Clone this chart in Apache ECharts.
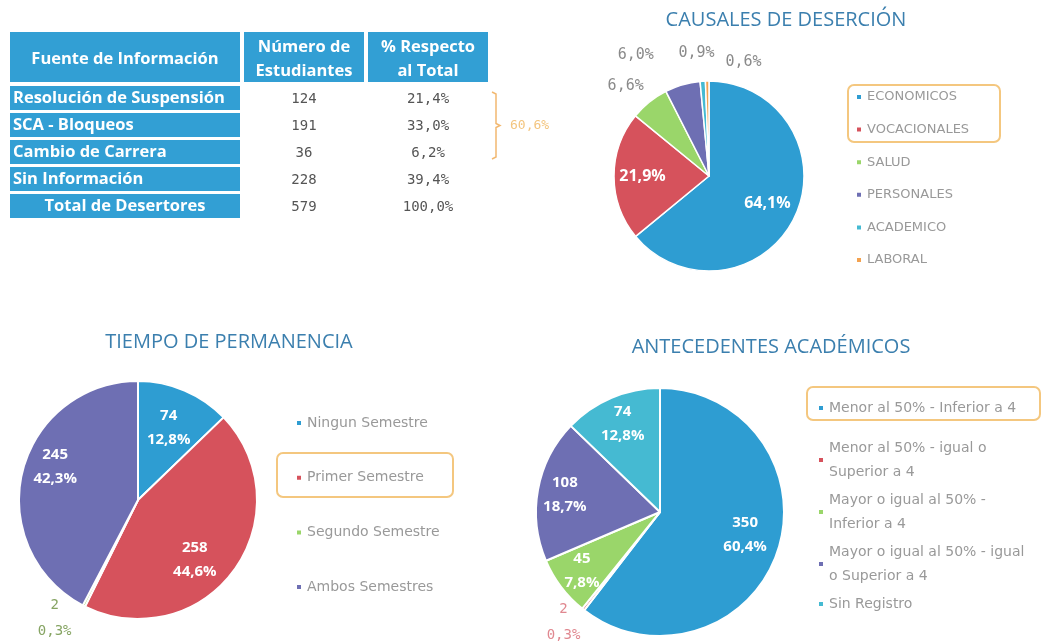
<!DOCTYPE html>
<html>
<head>
<meta charset="utf-8">
<title>Deserción</title>
<script src="https://cdn.jsdelivr.net/npm/echarts@6/dist/echarts.min.js"></script>
<style>
    html, body { margin: 0; padding: 0; background: #fff; }
    #contain { width: 1042px; height: 643px; }
</style>
</head>
<body>
<div id="contain"></div>
<script>
/*tabla*/
var encabezados = ['Fuente de Información', 'Número de\nEstudiantes', '% Respecto\nal Total'];
var fuentes = ['Resolución de Suspensión', 'SCA - Bloqueos', 'Cambio de Carrera', 'Sin Información'];
var estudiantes = [124, 191, 36, 228];
var porcentajes = [21.4, 33.0, 6.2, 39.4];
var filaTotal = 'Total de Desertores';

/*causales de desercion (en %)*/
var causales = ['ECONOMICOS', 'VOCACIONALES', 'SALUD', 'PERSONALES', 'ACADEMICO', 'LABORAL'];
var causalesPct = [64.1, 21.9, 6.6, 6.0, 0.9, 0.6];

/*tiempo de permanencia*/
var permanencia = ['Ningun Semestre', 'Primer Semestre', 'Segundo Semestre', 'Ambos Semestres'];
var permanenciaN = [74, 258, 2, 245];

/*antecedentes academicos*/
var antecedentes = ['Menor al 50% - Inferior a 4', 'Menor al 50% - igual o Superior a 4',
    'Mayor o igual al 50% - Inferior a 4', 'Mayor o igual al 50% - igual o Superior a 4', 'Sin Registro'];
var antecedentesN = [350, 2, 45, 108, 74];

var azul = '#2e9dd2', rojo = '#d6525c', verde = '#9ad66a', morado = '#6e6fb3', celeste = '#45bad2', naranja = '#f3a250';
var azulTabla = '#329fd4';

// donde va cada etiqueta: fraccion del radio y giro en grados
var radio1 = [0.68, 0.7, 1.29, 1.49, 1.3, 1.25], giro1 = [0, 0, -4, -15, -2, 18];
var radio2 = [0.66, 0.69, 1.22, 0.75], giro2 = [0, 10, 8, 8];
var radio3 = [0.71, 1.18, 0.79, 0.78, 0.77], giro3 = [-4, 3, 0, 0, 0];

function sum(arr) {
    var s = 0;
    for (var i = 0; i < arr.length; i++) s += arr[i];
    return s;
}

function coma(v) {
    return v.toFixed(1).replace('.', ',');
}

/**
 * corta el texto de la leyenda por palabras
 */
function partir(nombre, max) {
    var palabras = nombre.split(' '), lineas = [], actual = '';
    for (var i = 0; i < palabras.length; i++) {
        var prueba = actual ? actual + ' ' + palabras[i] : palabras[i];
        if (prueba.length > max && actual) {
            lineas.push(actual);
            actual = palabras[i];
        } else {
            actual = prueba;
        }
    }
    lineas.push(actual);
    return lineas.join('\n');
}

/**
 * posicion de las etiquetas segun el angulo de cada porcion
 */
function etiquetas(centro, r, valores, radios, giros) {
    var total = sum(valores);
    return function (p) {
        var antes = 0;
        for (var i = 0; i < p.dataIndex; i++) antes += valores[i];
        var ang = (antes + valores[p.dataIndex] / 2) / total * 2 * Math.PI + giros[p.dataIndex] * Math.PI / 180;
        var d = r * radios[p.dataIndex];
        return {
            x: centro[0] + Math.sin(ang) * d,
            y: centro[1] - Math.cos(ang) * d,
            align: 'center',
            verticalAlign: 'middle'
        };
    };
}

function datos(nombres, valores, radios, fuera) {
    var out = [];
    for (var i = 0; i < nombres.length; i++) {
        var item = {name: nombres[i], value: valores[i]};
        if (radios[i] > 1) {
            item.label = fuera;
        }
        out.push(item);
    }
    return out;
}

function texto(x, y, t, font, fill, align, extra) {
    var style = {text: t, font: font, fill: fill, textAlign: align, align: align,
        textVerticalAlign: 'middle', verticalAlign: 'middle'};
    for (var k in extra) style[k] = extra[k];
    return {type: 'text', x: x, y: y, style: style, silent: true};
}

/**
 * tabla de fuentes de informacion
 */
function tabla() {
    var g = [];
    var x0 = 10, anchos = [230, 120, 120], sep = 4;
    var yEnc = 32, altoEnc = 50, yFila = 86, altoFila = 24, paso = 27;
    var xs = [x0, x0 + anchos[0] + sep, x0 + anchos[0] + anchos[1] + 2 * sep];
    for (var i = 0; i < encabezados.length; i++) {
        g.push({type: 'rect', shape: {x: xs[i], y: yEnc, width: anchos[i], height: altoEnc}, style: {fill: azulTabla}, silent: true});
        g.push(texto(xs[i] + anchos[i] / 2, yEnc + altoEnc / 2 + 2, encabezados[i], 'bold 16.5px "Open Sans"', '#fff', 'center', {lineHeight: 24}));
    }
    var nombres = fuentes.concat([filaTotal]);
    var valores = estudiantes.concat([sum(estudiantes)]);
    var pcts = porcentajes.concat([sum(porcentajes)]);
    for (var j = 0; j < nombres.length; j++) {
        var y = yFila + j * paso;
        var ultimo = j === nombres.length - 1;
        g.push({type: 'rect', shape: {x: x0, y: y, width: anchos[0], height: altoFila}, style: {fill: azulTabla}, silent: true});
        g.push(texto(ultimo ? x0 + anchos[0] / 2 : x0 + 3, y + altoFila / 2, nombres[j], 'bold 16.5px "Open Sans"', '#fff', ultimo ? 'center' : 'left'));
        g.push(texto(xs[1] + anchos[1] / 2, y + altoFila / 2 + 1, String(valores[j]), '14px "DejaVu Sans Mono"', '#555', 'center'));
        g.push(texto(xs[2] + anchos[2] / 2, y + altoFila / 2 + 1, coma(pcts[j]) + '%', '14px "DejaVu Sans Mono"', '#555', 'center'));
    }
    // llave de las tres primeras filas
    var bx = 496, top = yFila + 6, bot = yFila + 2 * paso + altoFila - 5, mid = (top + bot) / 2;
    g.push({type: 'polyline', shape: {points: [[bx - 4, top], [bx, top + 2], [bx, mid - 2], [bx + 4, mid], [bx, mid + 2], [bx, bot - 2], [bx - 4, bot]]},
        style: {stroke: '#f2b870', lineWidth: 1.5, fill: null}, silent: true});
    g.push(texto(bx + 14, mid, coma(sum(porcentajes.slice(0, 3))) + '%', '13px "DejaVu Sans Mono"', '#f3c57f', 'left'));
    return g;
}

function recuadro(x, y, w, h) {
    return {type: 'rect', shape: {x: x, y: y, width: w, height: h, r: 6},
        style: {fill: null, stroke: '#f4c77f', lineWidth: 2}, silent: true};
}

var titulo = '20px "Open Sans"', colorTitulo = '#3b7fae';
var graficos = tabla().concat([
    texto(786, 20, 'CAUSALES DE DESERCIÓN', titulo, colorTitulo, 'center'),
    texto(229, 342, 'TIEMPO DE PERMANENCIA', titulo, colorTitulo, 'center'),
    texto(771, 347, 'ANTECEDENTES ACADÉMICOS', titulo, colorTitulo, 'center'),
    recuadro(848, 85, 152, 57),
    recuadro(277, 453, 176, 44),
    recuadro(807, 387, 233, 33)
]);

var colorLeyenda = '#999';
function conLeyenda(extra) {
    var o = {
        orient: 'vertical', icon: 'rect', itemWidth: 6, itemHeight: 6, itemTextGap: 6,
        padding: 0, selectedMode: false
    };
    for (var e in extra) o[e] = extra[e];
    return o;
}

var etiquetaDentro = {
    show: true, position: 'inside', color: '#fff', fontWeight: 'bold',
    fontFamily: 'Open Sans', fontSize: 15, lineHeight: 24
};

var c1 = [709, 176], r1 = 95;
var c2 = [138, 500], r2 = 119;
var c3 = [660, 512], r3 = 124;

var myChart = echarts.init(document.getElementById('contain'));
myChart.setOption({
    backgroundColor: '#fff',
    animation: false,
    graphic: {elements: graficos},
    legend: [
        conLeyenda({left: 855, top: 89.5, itemGap: 17.6, data: causales,
            textStyle: {color: colorLeyenda, fontFamily: 'DejaVu Sans', fontSize: 13, lineHeight: 15}}),
        conLeyenda({left: 295, top: 415, itemGap: 38.7, itemTextGap: 9, data: permanencia,
            textStyle: {color: colorLeyenda, fontFamily: 'DejaVu Sans', fontSize: 14, lineHeight: 16}}),
        conLeyenda({left: 817, top: 400, data: antecedentes.slice(0, 1),
            textStyle: {color: colorLeyenda, fontFamily: 'DejaVu Sans', fontSize: 14, lineHeight: 16}}),
        conLeyenda({left: 817, top: 436, itemGap: 4, data: antecedentes.slice(1),
            formatter: function (name) { return partir(name, 28); },
            textStyle: {color: colorLeyenda, fontFamily: 'DejaVu Sans', fontSize: 14, lineHeight: 24}})
    ],
    series: [
        {
            name: 'Causales de Deserción',
            type: 'pie',
            center: c1,
            radius: r1,
            color: [azul, rojo, verde, morado, celeste, naranja],
            itemStyle: {borderColor: '#fff', borderWidth: 1.5},
            label: {
                show: true, position: 'inside', color: '#fff', fontWeight: 'bold',
                fontFamily: 'Open Sans', fontSize: 16,
                formatter: function (p) { return coma(p.value) + '%'; }
            },
            labelLine: {show: false},
            labelLayout: etiquetas(c1, r1, causalesPct, radio1, giro1),
            data: datos(causales, causalesPct, radio1,
                {color: '#8a8a8a', fontWeight: 'normal', fontFamily: 'DejaVu Sans Mono', fontSize: 15})
        },
        {
            name: 'Tiempo de Permanencia',
            type: 'pie',
            center: c2,
            radius: r2,
            color: [azul, rojo, verde, morado],
            itemStyle: {borderColor: '#fff', borderWidth: 2},
            label: Object.assign({}, etiquetaDentro, {
                formatter: function (p) { return p.value + '\n' + coma(p.value / sum(permanenciaN) * 100) + '%'; }
            }),
            labelLine: {show: false},
            labelLayout: etiquetas(c2, r2, permanenciaN, radio2, giro2),
            data: datos(permanencia, permanenciaN, radio2,
                {color: '#86a463', fontWeight: 'normal', fontFamily: 'DejaVu Sans Mono', fontSize: 14, lineHeight: 26})
        },
        {
            name: 'Antecedentes Académicos',
            type: 'pie',
            center: c3,
            radius: r3,
            color: [azul, rojo, verde, morado, celeste],
            itemStyle: {borderColor: '#fff', borderWidth: 2},
            label: Object.assign({}, etiquetaDentro, {
                formatter: function (p) { return p.value + '\n' + coma(p.value / sum(antecedentesN) * 100) + '%'; }
            }),
            labelLine: {show: false},
            labelLayout: etiquetas(c3, r3, antecedentesN, radio3, giro3),
            data: datos(antecedentes, antecedentesN, radio3,
                {color: '#e08890', fontWeight: 'normal', fontFamily: 'DejaVu Sans Mono', fontSize: 14, lineHeight: 26})
        }
    ]
});
</script>
</body>
</html>
